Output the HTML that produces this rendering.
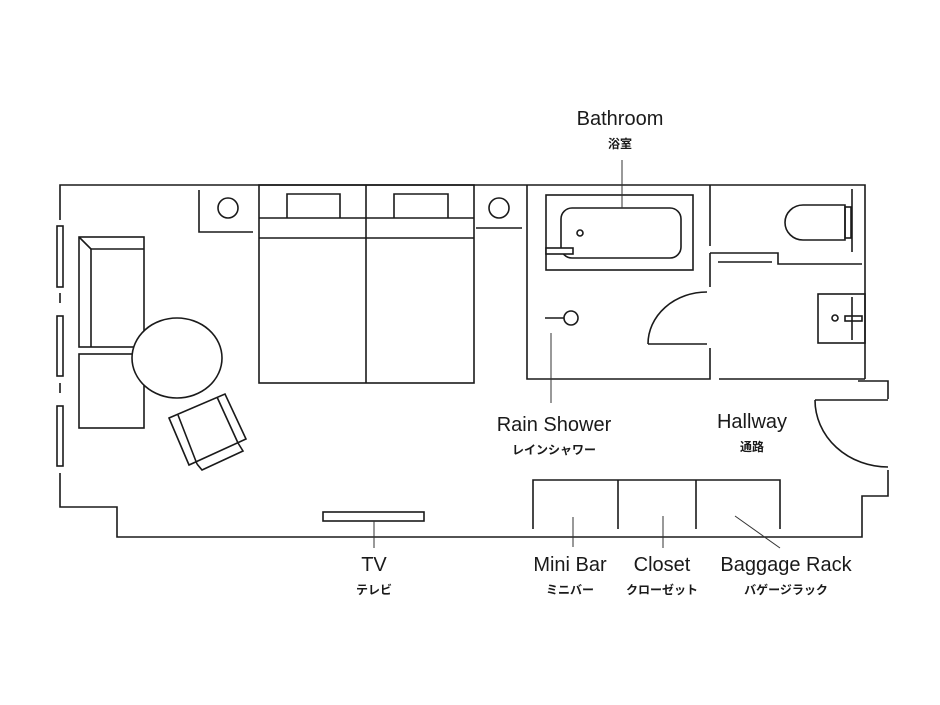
<!DOCTYPE html>
<html><head><meta charset="utf-8"><style>html,body{margin:0;padding:0;background:#fff}svg{display:block}</style></head>
<body>
<svg width="940" height="705" viewBox="0 0 940 705" xmlns="http://www.w3.org/2000/svg">
<g fill="none" stroke="#1a1a1a" stroke-width="1.6">
<polyline points="60,220 60,185 865,185 865,379"/>
<line x1="60" y1="293" x2="60" y2="303"/>
<line x1="60" y1="383" x2="60" y2="393"/>
<polyline points="60,473 60,507 117,507 117,537 862,537 862,496 888,496 888,470"/>
<polyline points="858,381 888,381 888,399"/>
<rect x="57" y="226" width="6" height="61"/>
<rect x="57" y="316" width="6" height="60"/>
<rect x="57" y="406" width="6" height="60"/>
<polyline points="199,190 199,232 253,232"/>
<circle cx="228" cy="208" r="10"/>
<circle cx="499" cy="208" r="10"/>
<line x1="476" y1="228" x2="522" y2="228"/>
<rect x="259" y="185" width="215" height="198"/>
<line x1="366" y1="185" x2="366" y2="383"/>
<line x1="259" y1="218" x2="474" y2="218"/>
<line x1="259" y1="238" x2="474" y2="238"/>
<polyline points="287,218 287,194 340,194 340,218"/>
<polyline points="394,218 394,194 448,194 448,218"/>
<rect x="79" y="237" width="65" height="110"/>
<polyline points="91,347 91,249 144,249"/>
<line x1="79" y1="237" x2="91" y2="249"/>
<rect x="79" y="354" width="65" height="74"/>
<ellipse cx="177" cy="358" rx="45" ry="40" fill="#fff"/>
<polygon points="169,418 225,394 246,439 189,465"/>
<line x1="178" y1="415" x2="197" y2="464"/>
<line x1="217" y1="397" x2="238" y2="443"/>
<polyline points="197,464 202,470 243,451 238,443"/>
<rect x="323" y="512" width="101" height="9"/>
<polyline points="710,185 710,246"/>
<polyline points="527,185 527,379 710,379 710,348"/>
<line x1="710" y1="253" x2="710" y2="287"/>
<line x1="648" y1="344" x2="707" y2="344"/>
<path d="M707,292 A59,52 0 0 0 648,344"/>
<line x1="719" y1="379" x2="865" y2="379"/>
<polyline points="710,253 778,253 778,264 862,264"/>
<line x1="718" y1="262" x2="772" y2="262"/>
<path d="M845,205 L803,205 A18,17.5 0 0 0 803,240 L845,240 Z"/>
<rect x="845" y="207" width="6" height="31"/>
<line x1="852" y1="189" x2="852" y2="252"/>
<rect x="818" y="294" width="47" height="49"/>
<line x1="852" y1="297" x2="852" y2="340"/>
<circle cx="835" cy="318" r="3"/>
<rect x="845" y="316" width="17" height="5"/>
<rect x="546" y="195" width="147" height="75"/>
<rect x="561" y="208" width="120" height="50" rx="11"/>
<circle cx="580" cy="233" r="3"/>
<rect x="546" y="248" width="27" height="6" fill="#fff"/>
<circle cx="571" cy="318" r="7"/>
<line x1="545" y1="318" x2="564" y2="318"/>
<line x1="815" y1="400" x2="888" y2="400"/>
<path d="M815,400 A73,67 0 0 0 888,467"/>
<polyline points="533,529 533,480 780,480 780,529"/>
<line x1="618" y1="480" x2="618" y2="529"/>
<line x1="696" y1="480" x2="696" y2="529"/>
</g>
<g stroke="#333" stroke-width="1">
<line x1="622" y1="160" x2="622" y2="208"/>
<line x1="551" y1="333" x2="551" y2="403"/>
<line x1="374" y1="521" x2="374" y2="548"/>
<line x1="573" y1="517" x2="573" y2="547"/>
<line x1="663" y1="516" x2="663" y2="548"/>
<line x1="735" y1="516" x2="780" y2="548"/>
</g>
<g font-family="'Liberation Sans','Noto Sans CJK JP',sans-serif" fill="#1a1a1a" text-anchor="middle">
<g font-size="20">
<text x="620" y="125">Bathroom</text>
<text x="554" y="431">Rain Shower</text>
<text x="752" y="428">Hallway</text>
<text x="374" y="571">TV</text>
<text x="570" y="571">Mini Bar</text>
<text x="662" y="571">Closet</text>
<text x="786" y="571">Baggage Rack</text>
</g>
<g font-size="12" font-weight="bold">
<text x="620" y="148">浴室</text>
<text x="554" y="454">レインシャワー</text>
<text x="752" y="451">通路</text>
<text x="374" y="594">テレビ</text>
<text x="570" y="594">ミニバー</text>
<text x="662" y="594">クローゼット</text>
<text x="786" y="594">バゲージラック</text>
</g>
</g>
</svg>
</body></html>
